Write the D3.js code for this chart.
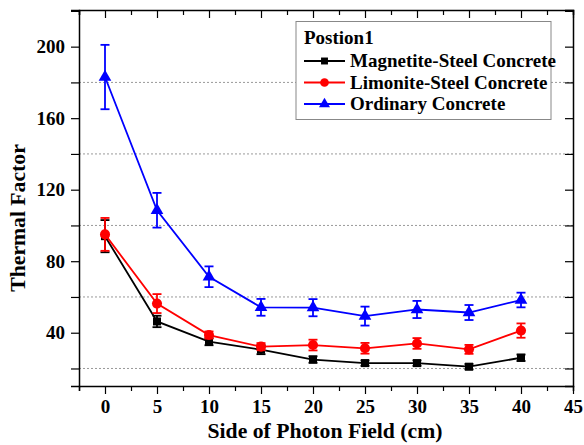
<!DOCTYPE html>
<html><head><meta charset="utf-8">
<script src="https://cdn.jsdelivr.net/npm/d3@7"></script>
<style>body{margin:0;background:#fff}svg{display:block}</style>
</head><body><svg id="c" width="584" height="445"></svg>
<script>
const xValues = [0, 5, 10, 15, 20, 25, 30, 35, 40];
const magnetite = [94, 46.3, 35, 30.5, 25, 23, 23, 21, 26];
const magnetiteErr = [9, 3.2, 2, 2.5, 1.8, 1.5, 1.5, 1.5, 1.8];
const limonite = [95, 56.3, 38.7, 32.2, 33.1, 31.3, 34, 30.7, 41.2];
const limoniteErr = [9.2, 5.3, 2, 2, 3, 3, 3, 2.5, 4];
const ordinary = [183, 108.5, 71.3, 54.2, 54, 49.3, 53, 51.3, 58.3];
const ordinaryErr = [18, 9.7, 5.8, 4.7, 4.8, 5.3, 4.8, 4.2, 4.1];
const seriesNames = ["Magnetite-Steel Concrete", "Limonite-Steel Concrete", "Ordinary Concrete"];
const seriesColors = ["#000000", "#ff0000", "#0000ff"];
const legendTitle = "Postion1";
const xTicks = [0, 5, 10, 15, 20, 25, 30, 35, 40, 45];
const yTicks = [40, 80, 120, 160, 200];
const gridValues = [20, 60, 100, 140, 180];

const FONT = "Liberation Serif";

const series = [
  {name: seriesNames[0], color: seriesColors[0], vals: magnetite, err: magnetiteErr, sym: d3.symbolSquare, size: 64},
  {name: seriesNames[1], color: seriesColors[1], vals: limonite, err: limoniteErr, sym: d3.symbolCircle, size: 80},
  {name: seriesNames[2], color: seriesColors[2], vals: ordinary, err: ordinaryErr, sym: d3.symbolTriangle, size: 70}
];

const svg = d3.select("#c");
const L = 79, R = 573, T = 10, B = 386;
const x = d3.scaleLinear().domain([-2.5, 45]).range([L, R]);
const y = d3.scaleLinear().domain([10.2, 220.5]).range([B, T]);

function styleText(sel, size) {
  sel.style("font-family", FONT).style("font-weight", "bold").style("font-size", size + "px").attr("fill", "#000");
}

// grid
svg.append("g").selectAll("line").data(gridValues).join("line")
  .attr("x1", L).attr("x2", R).attr("y1", d => y(d)).attr("y2", d => y(d))
  .attr("stroke", "#999").attr("stroke-width", 1).attr("stroke-dasharray", "2,2");

// axes
const minorX = d3.range(-2.5, 45.01, 2.5);
const minorY = d3.range(20, 220.01, 20);
const gB = svg.append("g").attr("transform", `translate(0,${B})`)
  .call(d3.axisBottom(x).tickValues(minorX).tickSize(5).tickFormat(""));
gB.selectAll(".tick").filter(d => xTicks.includes(d)).select("line").attr("y2", 8);
const gB2 = svg.append("g").attr("transform", `translate(0,${B})`)
  .call(d3.axisBottom(x).tickValues(xTicks).tickSize(0).tickPadding(14).tickFormat(d3.format("d")));
gB2.select(".domain").remove();
styleText(gB2.selectAll("text"), 19);

const gT = svg.append("g").attr("transform", `translate(0,${T})`)
  .call(d3.axisBottom(x).tickValues(minorX).tickSize(5).tickFormat(""));
gT.selectAll(".tick").filter(d => xTicks.includes(d)).select("line").attr("y2", 8);

const gL = svg.append("g").attr("transform", `translate(${L},0)`)
  .call(d3.axisLeft(y).tickValues(minorY).tickSize(8).tickFormat(""));
const gL2 = svg.append("g").attr("transform", `translate(${L},0)`)
  .call(d3.axisLeft(y).tickValues(yTicks).tickSize(0).tickPadding(14).tickFormat(d3.format("d")));
gL2.select(".domain").remove();
styleText(gL2.selectAll("text"), 19);

const gR = svg.append("g").attr("transform", `translate(${R},0)`)
  .call(d3.axisLeft(y).tickValues(minorY).tickSize(8).tickFormat(""));

svg.selectAll(".domain").attr("stroke", "#000").attr("stroke-width", 1.5);
svg.selectAll(".tick line").attr("stroke", "#000").attr("stroke-width", 1.2);

// axis titles
styleText(svg.append("text").attr("x", 325).attr("y", 438).attr("text-anchor", "middle")
  .text("Side of Photon Field (cm)"), 21.7);
styleText(svg.append("text").attr("transform", "translate(25,218) rotate(-90)").attr("text-anchor", "middle")
  .text("Thermal Factor"), 21.7);

// series
const line = d3.line();
series.forEach(s => {
  const g = svg.append("g");
  const pts = xValues.map((xv, i) => [x(xv), y(s.vals[i])]);
  g.append("path").attr("d", line(pts)).attr("fill", "none").attr("stroke", s.color).attr("stroke-width", 1.8);
  xValues.forEach((xv, i) => {
    const cx = x(xv), y1 = y(s.vals[i] + s.err[i]), y2 = y(s.vals[i] - s.err[i]);
    g.append("line").attr("x1", cx).attr("x2", cx).attr("y1", y1).attr("y2", y2).attr("stroke", s.color).attr("stroke-width", 1.8);
    [y1, y2].forEach(yy => g.append("line").attr("x1", cx - 4.5).attr("x2", cx + 4.5).attr("y1", yy).attr("y2", yy).attr("stroke", s.color).attr("stroke-width", 1.8));
  });
  g.selectAll("path.m").data(xValues).join("path").attr("class", "m")
    .attr("transform", (d, i) => `translate(${x(d)},${y(s.vals[i])})`)
    .attr("d", d3.symbol().type(s.sym).size(s.size)).attr("fill", s.color);
});

// legend
const lg = svg.append("g");
lg.append("rect").attr("x", 296).attr("y", 21.5).attr("width", 255).attr("height", 98)
  .attr("fill", "#fff").attr("stroke", "#888").attr("stroke-width", 1);
styleText(lg.append("text").attr("x", 304).attr("y", 43.5).text(legendTitle), 19);
series.forEach((s, i) => {
  const yy = 61 + i * 21.5;
  lg.append("line").attr("x1", 304).attr("x2", 345).attr("y1", yy).attr("y2", yy).attr("stroke", s.color).attr("stroke-width", 1.8);
  lg.append("path").attr("transform", `translate(324.5,${yy})`).attr("d", d3.symbol().type(s.sym).size(s.size * 0.75)).attr("fill", s.color);
  styleText(lg.append("text").attr("x", 350).attr("y", yy + 6).text(s.name), 19);
});
</script></body></html>
